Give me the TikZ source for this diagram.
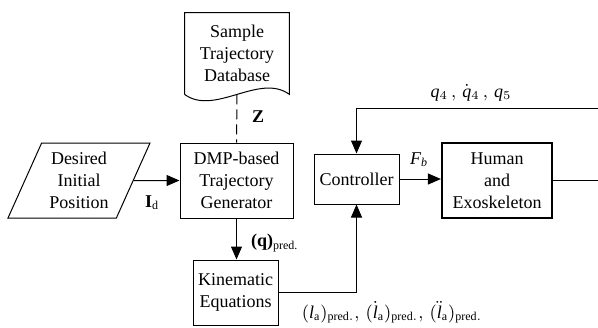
\documentclass[tikz,border=0pt]{standalone}
\usepackage{fontspec}
\setmainfont{Liberation Serif}
\usetikzlibrary{shapes.geometric,arrows.meta,positioning,calc}

\begin{document}
\begin{tikzpicture}[x=0.5pt,y=-0.5pt,
  block/.style={rectangle,draw,line width=0.5pt,align=center,inner sep=1pt},
  arrow/.style={-{Triangle[length=6.5pt,width=5.5pt]},line width=0.5pt},
  line/.style={line width=0.5pt},
  font=\fontsize{9}{11}\selectfont
]
\useasboundingbox (0,0) rectangle (598,327);
% blocks
\node[minimum width=52pt,minimum height=40.5pt,align=center,inner sep=1pt] (db) at (237,53.5) {Sample\\Trajectory\\Database};
\node[block,minimum width=56.5pt,minimum height=37.5pt] (dmp) at (236.5,180.5) {DMP-based\\Trajectory\\Generator};
\node[trapezium,draw,line width=0.5pt,trapezium left angle=61,trapezium right angle=119,trapezium stretches body,minimum width=71pt,minimum height=37.5pt,align=center,inner sep=1pt] (init) at (79,180.5) {Desired\\Initial\\Position};
\node[block,minimum width=42.5pt,minimum height=32.5pt] (kin) at (235.5,292.5) {Kinematic\\Equations};
\node[block,minimum width=42.5pt,minimum height=25pt] (ctrl) at (356.5,179) {Controller};
\node[block,line width=1.1pt,minimum width=55pt,minimum height=37.5pt] (hum) at (497,180.5) {Human\\and\\Exoskeleton};
\coordinate (fbin) at (598,108);
\coordinate (out) at (598,180.5);
% database outline
\draw[line] (db.south west) -- (db.north west) -- (db.north east) -- (db.south east)
  .. controls ($(db.south east)+(-30,-22)$) and ($(db.south west)+(30,22)$) .. (db.south west);
% connectors
\draw[line,dashed,dash pattern=on 5pt off 2.5pt] (db.south) -- (dmp.north);
\draw[arrow] (init) -- (dmp);
\draw[arrow] (dmp.south) -- (dmp.south |- kin.north);
\draw[arrow] (kin.east) -| (ctrl.south);
\draw[arrow] (ctrl.east) -- (ctrl.east -| hum.west);
\draw[arrow] (fbin) -| (ctrl.north);
\draw[line] (hum.east) -- (out);
% labels
\node at (258,117) {\textbf{Z}};
\node at (152,203) {\textbf{I}\textsubscript{d}};
\node[anchor=west] at (244,243) {\textbf{(q)}\textsubscript{pred.}};
\node at (419,160) {$\mathit{F}_{\mathit{b}}$};
\node at (471,93) {$\mathit{q}_4\,,\,\dot{\mathit{q}}_4\,,\,\mathit{q}_5$};
\node at (392,312) {$(\mathit{l}_\mathrm{a})_\mathrm{pred.},\,(\dot{\mathit{l}}_\mathrm{a})_\mathrm{pred.},\,(\ddot{\mathit{l}}_\mathrm{a})_\mathrm{pred.}$};
\end{tikzpicture}
\end{document}
